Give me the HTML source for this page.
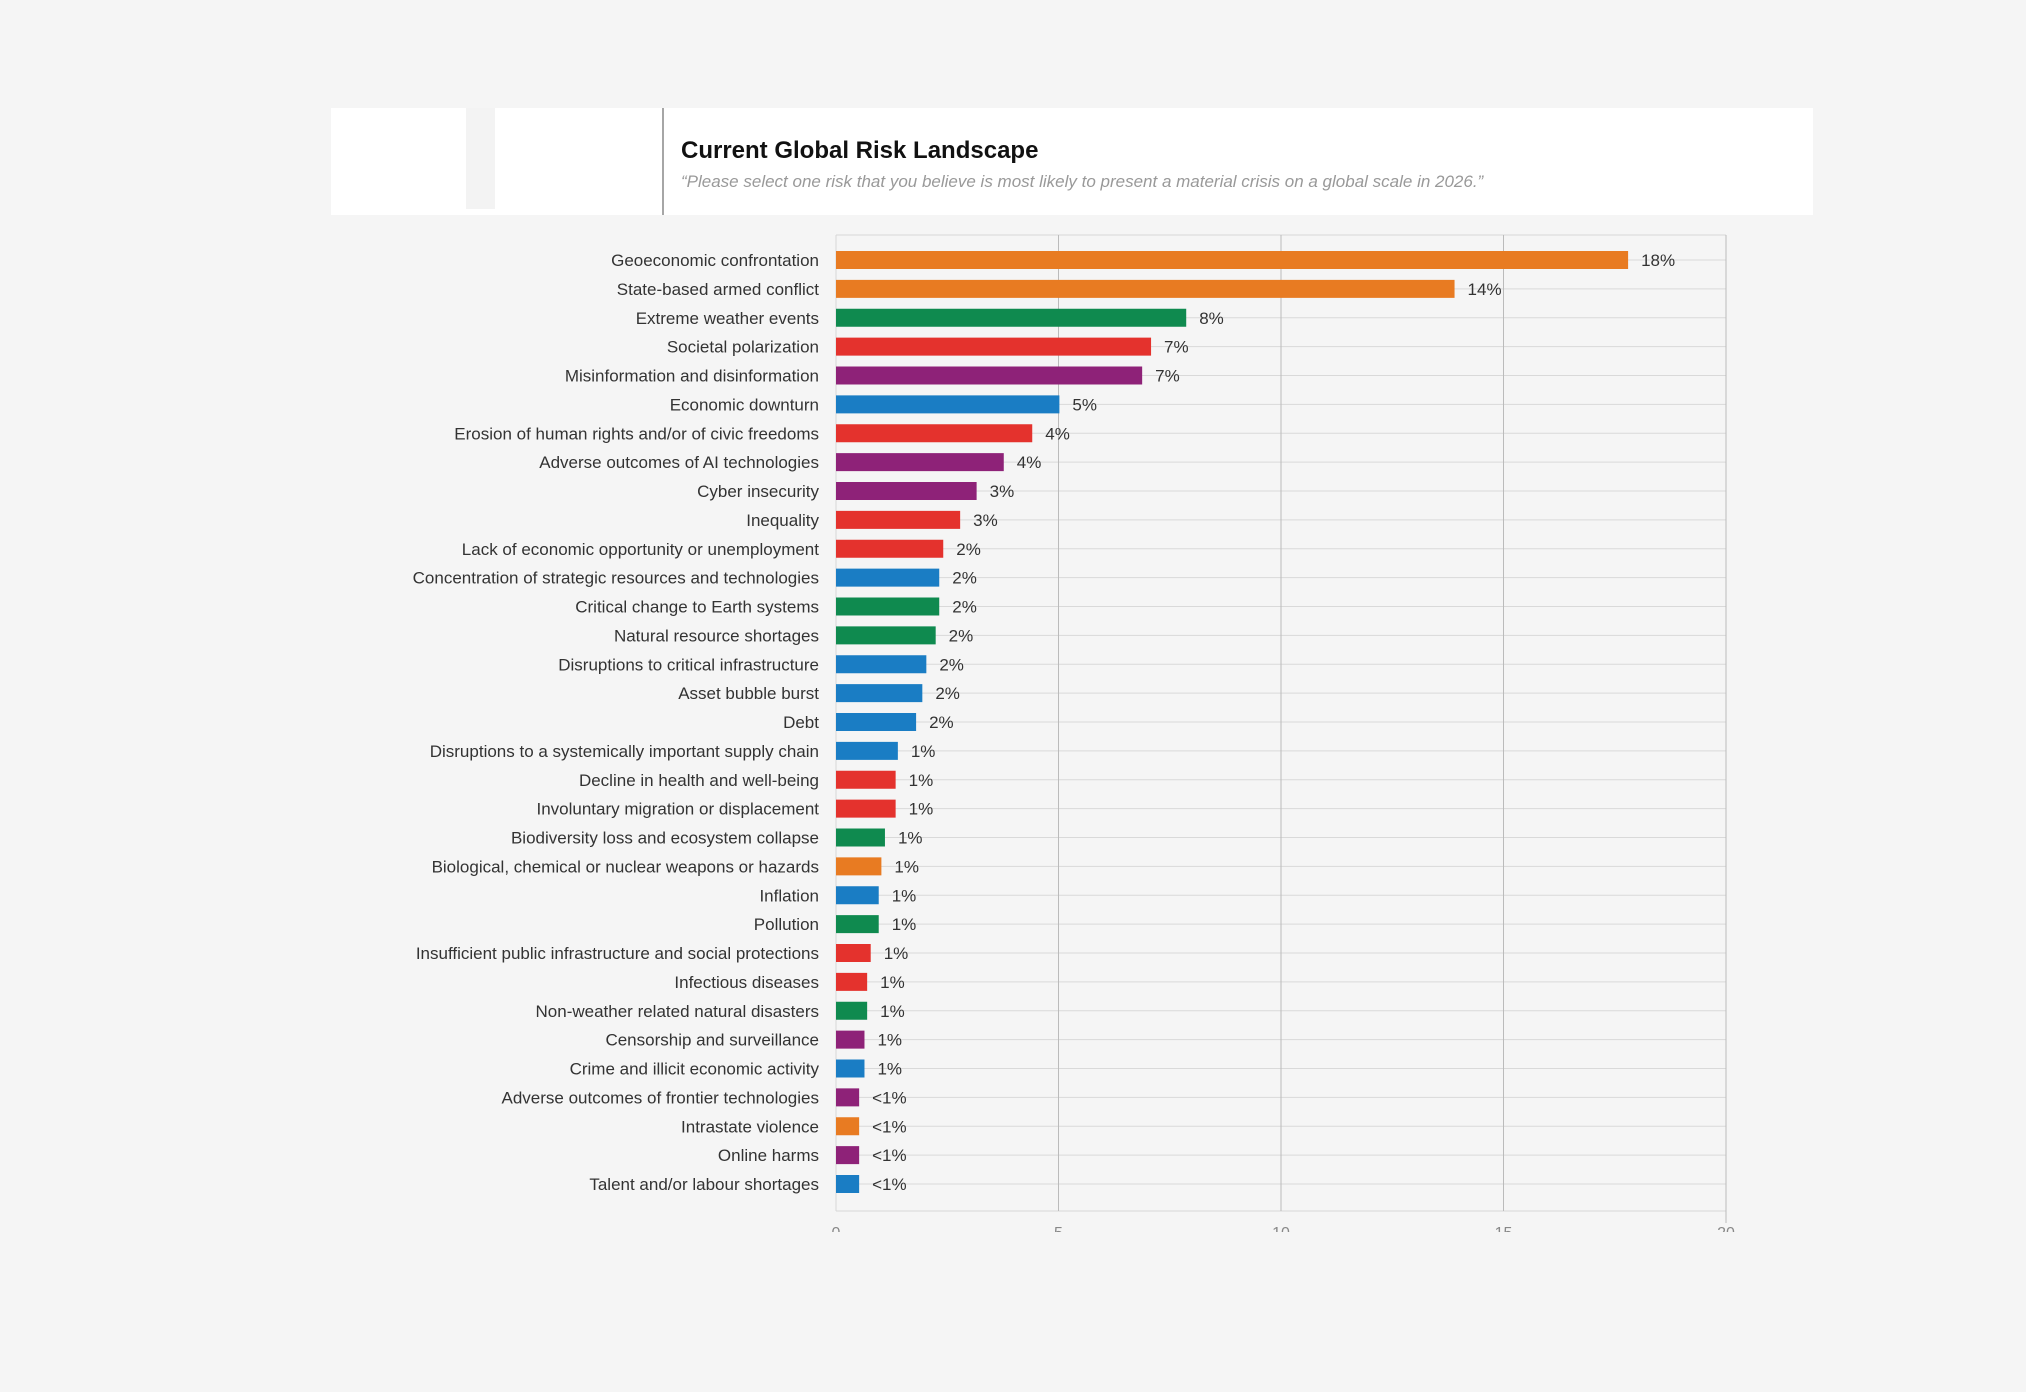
<!DOCTYPE html>
<html><head><meta charset="utf-8"><style>
body{margin:0;background:#f5f5f5;width:2026px;height:1392px;overflow:hidden;font-family:"Liberation Sans",sans-serif}
svg{position:absolute;left:0;top:0}
</style></head><body>
<svg width="2026" height="1392">
<rect x="331" y="108" width="1482" height="107" fill="#fff"/>
<rect x="466" y="108" width="29" height="101" fill="#f3f3f3"/>
<line x1="663" y1="108" x2="663" y2="215" stroke="#888" stroke-width="1.5"/>
<text x="681" y="158" font-size="24" font-weight="bold" fill="#111">Current Global Risk Landscape</text>
<text x="681" y="187" font-size="17" font-style="italic" fill="#999">“Please select one risk that you believe is most likely to present a material crisis on a global scale in 2026.”</text>
<g id="grid"></g><g id="bars"></g>
</svg>
<script>
const categories=["Geoeconomic confrontation","State-based armed conflict","Extreme weather events","Societal polarization","Misinformation and disinformation","Economic downturn","Erosion of human rights and/or of civic freedoms","Adverse outcomes of AI technologies","Cyber insecurity","Inequality","Lack of economic opportunity or unemployment","Concentration of strategic resources and technologies","Critical change to Earth systems","Natural resource shortages","Disruptions to critical infrastructure","Asset bubble burst","Debt","Disruptions to a systemically important supply chain","Decline in health and well-being","Involuntary migration or displacement","Biodiversity loss and ecosystem collapse","Biological, chemical or nuclear weapons or hazards","Inflation","Pollution","Insufficient public infrastructure and social protections","Infectious diseases","Non-weather related natural disasters","Censorship and surveillance","Crime and illicit economic activity","Adverse outcomes of frontier technologies","Intrastate violence","Online harms","Talent and/or labour shortages"];
const values=[17.8,13.9,7.87,7.08,6.88,5.02,4.41,3.77,3.16,2.79,2.41,2.32,2.32,2.24,2.03,1.94,1.8,1.39,1.34,1.34,1.1,1.02,0.96,0.96,0.78,0.7,0.7,0.64,0.64,0.52,0.52,0.52,0.52];
const valueLabels=["18%","14%","8%","7%","7%","5%","4%","4%","3%","3%","2%","2%","2%","2%","2%","2%","2%","1%","1%","1%","1%","1%","1%","1%","1%","1%","1%","1%","1%","<1%","<1%","<1%","<1%"];
const groups=["geo","geo","env","soc","tech","eco","soc","tech","tech","soc","soc","eco","env","env","eco","eco","eco","eco","soc","soc","env","geo","eco","env","soc","soc","env","tech","eco","tech","geo","tech","eco"];
const ticks=[0,5,10,15,20];
const colors={geo:"#e87b22",env:"#0f8a4f",soc:"#e4322d",tech:"#8e2278",eco:"#1a7dc4"};
const NS="http://www.w3.org/2000/svg";
const px0=836,px1=1726,plotTop=235,plotBottom=1211,rowY0=260,step=28.875,bh=18;
const xs=v=>px0+(px1-px0)*v/20, ys=i=>rowY0+i*step;
const gridG=document.getElementById('grid'),barsG=document.getElementById('bars');
function mk(tag,a,p){const e=document.createElementNS(NS,tag);for(const k in a)e.setAttribute(k,a[k]);p.appendChild(e);return e;}
let l=mk('line',{x1:px0,y1:plotTop,x2:px1,y2:plotTop,stroke:'#d6d6d6'},gridG);


l=mk('line',{x1:px0,y1:plotBottom,x2:px1,y2:plotBottom,stroke:'#d6d6d6'},gridG);


categories.forEach((c,i)=>{const g=mk('line',{x1:px0,y1:ys(i),x2:px1,y2:ys(i),stroke:'#d9d9d9'},gridG);

});
ticks.forEach(t=>{const g=mk('line',{x1:xs(t),y1:plotTop,x2:xs(t),y2:plotBottom+(t==20?12:0),stroke:t==0?'#d6d6d6':'#bbb'},gridG);


const tx=mk('text',{x:xs(t),y:1238,'font-size':16,fill:'#888','text-anchor':'middle'},gridG);tx.textContent=t;

});
mk('rect',{x:0,y:1232,width:2026,height:160,fill:'#f5f5f5'},gridG);
categories.forEach((c,i)=>{const y=ys(i);
const lb=mk('text',{x:819,y:y+6,'font-size':17,fill:'#333','text-anchor':'end'},barsG);lb.textContent=c;


const r=mk('rect',{x:px0,y:y-bh/2,width:xs(values[i])-px0,height:bh,fill:colors[groups[i]]},barsG);


const v=mk('text',{x:xs(values[i])+13,y:y+6,'font-size':17,fill:'#333'},barsG);v.textContent=valueLabels[i];

});
</script>
</body></html>
